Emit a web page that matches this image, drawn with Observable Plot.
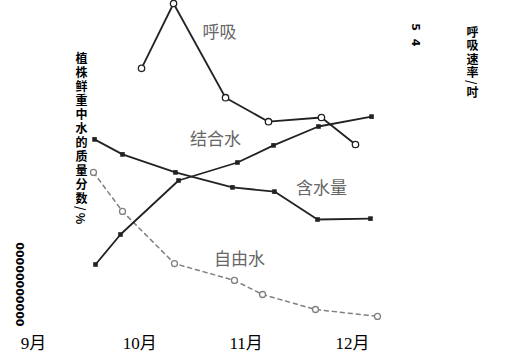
<!DOCTYPE html>
<html>
<head>
<meta charset="utf-8">
<script src="https://cdn.jsdelivr.net/npm/d3@7"></script>
<script src="https://cdn.jsdelivr.net/npm/@observablehq/plot@0.6"></script>
<style>
  html, body { margin: 0; padding: 0; background: #fff; }
</style>
</head>
<body>
<div id="chart"></div>
<script>
// Month ticks
const monthTicks = [9, 10, 11, 12];
const monthLabels = ["9月", "10月", "11月", "12月"];

// 含水量 (total water, % of fresh weight)
const totalX = [9.574, 9.837, 10.335, 10.871, 11.266, 11.671, 12.169];
const totalY = [63.7, 58.7, 52.7, 47.7, 46.3, 37.0, 37.3];

// 结合水 (bound water)
const boundX = [9.583, 9.818, 10.364, 10.918, 11.257, 11.680, 12.179];
const boundY = [22.0, 32.0, 50.0, 56.0, 61.7, 68.0, 71.3];

// 自由水 (free water)
const freeX = [9.564, 9.837, 10.326, 10.890, 11.154, 11.652, 12.235];
const freeY = [52.7, 39.7, 22.3, 16.7, 12.0, 7.0, 4.7];

// 呼吸 (respiration rate, right axis units)
const respX = [10.016, 10.317, 10.806, 11.210, 11.708, 12.028];
const respY = [4.37, 5.45, 3.88, 3.48, 3.55, 3.10];
const respFactor = 20; // right-axis units -> left-axis %

// Series labels
const seriesLabels = ["呼吸", "结合水", "含水量", "自由水"];
const seriesLabelX = [10.749, 10.712, 11.708, 10.937];
const seriesLabelY = [99.3, 63.7, 47.3, 23.7];

// Axis texts
const leftTitle = "植株鲜重中水的质量分数/%";
const rightTitle = "呼吸速率/吋";
const rightTicks = "5 4";
const leftTicks = "00000000000";

const zip = (xs, ys) => xs.map((x, i) => ({x, y: ys[i]}));
const total = zip(totalX, totalY);
const bound = zip(boundX, boundY);
const free = zip(freeX, freeY);
const resp = zip(respX, respY);
const labels = seriesLabels.map((t, i) => ({t, x: seriesLabelX[i], y: seriesLabelY[i]}));
const months = monthTicks.map((m, i) => ({m, label: monthLabels[i]}));

const ink = "#222";
const gray = "#808080";

const plot = Plot.plot({
  width: 515,
  height: 359,
  marginTop: 0, marginRight: 0, marginBottom: 0, marginLeft: 0,
  style: {fontFamily: "'Noto Sans CJK SC', sans-serif", background: "#fff"},
  x: {domain: [9, 12], range: [33, 352], axis: null},
  y: {domain: [0, 110], range: [330, 0], axis: null},
  marks: [
    // free water dashed
    Plot.line(free, {x: "x", y: "y", stroke: gray, strokeWidth: 1.5, strokeDasharray: "4,4"}),
    Plot.dot(free, {x: "x", y: "y", r: 3, stroke: gray, strokeWidth: 1.3, fill: "#fff"}),
    // total water
    Plot.line(total, {x: "x", y: "y", stroke: ink, strokeWidth: 1.8}),
    Plot.dot(total, {x: "x", y: "y", symbol: "square", r: 2.6, fill: ink, stroke: null}),
    // bound water
    Plot.line(bound, {x: "x", y: "y", stroke: ink, strokeWidth: 1.8}),
    Plot.dot(bound, {x: "x", y: "y", symbol: "square", r: 2.6, fill: ink, stroke: null}),
    // respiration (right axis scaled into left units)
    Plot.line(resp, {x: "x", y: d => d.y * respFactor, stroke: ink, strokeWidth: 1.8}),
    Plot.dot(resp, {x: "x", y: d => d.y * respFactor, r: 3.2, stroke: ink, strokeWidth: 1.3, fill: "#fff"}),
    // series labels
    Plot.text(labels, {x: "x", y: "y", text: "t", fontSize: 17, fill: "#666"}),
    // month tick labels
    Plot.text(months, {x: "m", text: "label", frameAnchor: "bottom", dy: -11, fontSize: 17,
      fill: "#000", fontFamily: "'Liberation Serif', 'Noto Sans CJK SC', serif"}),
    // vertical axis texts
    Plot.text([leftTitle], {frameAnchor: "top-left", dx: 81, dy: 43, text: d => d, fontSize: 12,
      fontWeight: "bold", fill: "#000", textAnchor: "start"}),
    Plot.text([rightTitle], {frameAnchor: "top-left", dx: 472, dy: 17, text: d => d, fontSize: 12,
      fontWeight: "bold", fill: "#000", textAnchor: "start"}),
    Plot.text([rightTicks], {frameAnchor: "top-left", dx: 415, dy: 15, text: d => d, fontSize: 11,
      fontWeight: "bold", fill: "#000", textAnchor: "start", fontFamily: "'DejaVu Sans', sans-serif"}),
    Plot.text([leftTicks], {frameAnchor: "top-left", dx: 19, dy: 234, text: d => d, fontSize: 11,
      fontWeight: "bold", fill: "#000", textAnchor: "start", fontFamily: "'DejaVu Sans', sans-serif"})
  ]
});

const verticals = new Set([leftTitle, rightTitle, rightTicks, leftTicks]);
d3.select(plot).selectAll("text").each(function() {
  if (verticals.has(this.textContent)) {
    this.removeAttribute("dy");
    this.style.writingMode = "vertical-rl";
    this.style.textOrientation = "mixed";
    if (this.textContent === leftTitle) this.style.letterSpacing = "2px";
    if (this.textContent === rightTitle) this.style.letterSpacing = "1.5px";
    if (this.textContent === rightTicks) this.style.letterSpacing = "2px";
  }
});

document.getElementById("chart").appendChild(plot);
</script>
</body>
</html>
